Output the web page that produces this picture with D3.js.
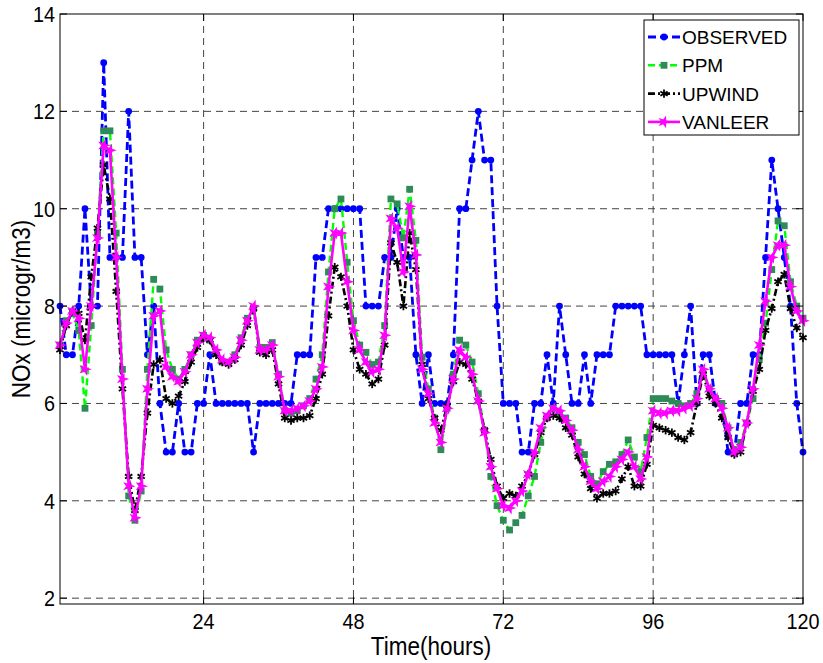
<!DOCTYPE html>
<html>
<head>
<meta charset="utf-8">
<script src="https://cdn.jsdelivr.net/npm/d3@7"></script>
<style>
  body { margin: 0; background: #fff; }
  svg { display: block; font-family: 'Liberation Sans', Arial, sans-serif; }
</style>
</head>
<body>
<svg id="chart" width="823" height="663"></svg>
<script>
// hours 1..120
const hours = d3.range(1, 121);

const observed = [8,7,7,8,10,8,8,13,9,9, 9,12,9,9,7,8,6,5,5,6,
  5,5,6,6,7,6,6,6,6,6, 6,5,6,6,6,6,6,6,7,7,
  7,9,9,10,10,10,10,10,10,8, 8,8,9,9,10,9,9,7,6,7,
  6,6,6,7,10,10,11,12,11,11, 8,6,6,6,5,5,6,6,7,6,
  8,7,6,6,7,6,7,7,7,8, 8,8,8,8,7,7,7,7,7,6,
  7,8,6,7,7,6,6,5,5,6, 6,7,7,9,11,10,9,8,6,5];

const ppm = [7.2,7.7,7.85,7.5,5.9,7.6,9.5,11.6,11.6,9.5, 6.7,4.1,3.6,4.2,6.7,8.55,8.35,7.1,6.7,6.5,
  6.7,7.0,7.3,7.4,7.3,7.05,6.85,6.85,7.0,7.35, 7.75,7.95,7.15,7.15,7.25,6.6,5.85,5.8,5.85,5.95,
  6.1,6.5,7.0,8.7,10.0,10.2,8.9,7.7,7.2,7.05, 6.8,6.85,7.6,10.2,10.1,9.4,10.4,9.35,6.95,6.3,
  5.7,5.05,5.9,6.6,7.3,7.2,6.85,6.2,5.45,4.5, 3.9,3.6,3.4,3.55,3.7,4.1,4.5,5.2,5.7,5.9,
  5.8,5.7,5.5,5.2,4.95,4.5,4.35,4.6,4.75,4.8, 4.95,5.25,4.9,4.6,5.3,6.1,6.1,6.1,6.05,6.0,
  5.95,6.0,6.2,6.6,6.3,6.1,6.0,5.5,5.05,5.2, 5.6,6.1,6.9,7.65,8.75,9.75,9.65,8.5,8.0,7.75];

const upwind = [7.1,7.6,7.9,7.85,7.3,8.6,9.6,10.9,10.2,8.3, 6.3,4.5,3.8,4.5,5.8,6.8,6.9,6.1,6.0,6.15,
  6.45,6.85,7.15,7.35,7.3,7.0,6.85,6.8,6.9,7.2, 7.6,7.95,7.05,7.0,7.1,6.4,5.7,5.65,5.7,5.7,
  5.75,6.1,6.6,7.8,8.8,8.6,8.0,7.1,6.7,6.6, 6.4,6.5,7.2,9.3,8.9,8.0,9.5,8.75,6.8,6.1,
  5.7,5.45,5.95,6.45,6.85,6.8,6.5,6.05,5.45,4.85, 4.3,4.05,4.15,4.1,4.3,4.55,4.95,5.4,5.7,5.75,
  5.7,5.5,5.35,4.9,4.55,4.25,4.05,4.15,4.15,4.2, 4.45,4.7,4.3,4.3,4.75,5.55,5.5,5.45,5.4,5.3,
  5.25,5.4,6.0,6.6,6.15,6.0,5.7,5.3,4.95,5.0, 5.6,6.25,6.7,7.5,7.95,8.5,8.65,7.95,7.55,7.35];

const vanleer = [7.2,7.65,7.9,7.75,6.7,8.0,9.4,11.3,11.2,9.0, 6.5,4.3,3.65,4.3,6.3,7.8,7.9,6.75,6.55,6.45,
  6.65,7.0,7.25,7.4,7.35,7.1,6.9,6.85,6.95,7.3, 7.7,8.0,7.1,7.1,7.2,6.55,5.85,5.85,5.9,5.95,
  6.05,6.3,6.75,8.4,9.5,9.5,8.5,7.5,7.1,6.85, 6.65,6.7,7.4,9.8,9.6,8.7,10.05,9.05,6.7,6.2,
  5.6,5.2,5.9,6.5,7.1,6.95,6.6,6.05,5.4,4.7, 4.25,3.9,3.85,4.0,4.2,4.55,5.0,5.5,5.75,5.9,
  5.85,5.65,5.45,5.05,4.7,4.4,4.25,4.4,4.5,4.7, 4.85,5.0,4.7,4.45,4.9,5.85,5.8,5.8,5.85,5.85,
  5.9,5.95,6.1,6.7,6.3,6.1,5.9,5.5,5.0,5.1, 5.6,6.3,7.2,8.1,9.0,9.25,9.25,8.4,7.9,7.7];

const xTicks = [24, 48, 72, 96, 120];
const yTicks = [2, 4, 6, 8, 10, 12, 14];
const seriesNames = ['OBSERVED', 'PPM', 'UPWIND', 'VANLEER'];

const svg = d3.select('#chart');
const plotLeft = 60, plotRight = 803, plotTop = 14, plotBottom = 604;

const x = d3.scaleLinear().domain([1, 120]).range([plotLeft, plotRight]);
const y = d3.scaleLinear().domain([1.88, 14]).range([plotBottom, plotTop]);

// grid
const grid = svg.append('g').attr('stroke', '#444').attr('stroke-width', 1).attr('stroke-dasharray', '7,5');
grid.selectAll('.gx').data(xTicks.filter(t => t < 120)).enter().append('line')
  .attr('x1', d => x(d)).attr('x2', d => x(d)).attr('y1', plotTop).attr('y2', plotBottom);
grid.selectAll('.gy').data(yTicks.filter(t => t < 14)).enter().append('line')
  .attr('y1', d => y(d)).attr('y2', d => y(d)).attr('x1', plotLeft).attr('x2', plotRight);

const plot = svg.append('g');

function drawLine(data, color, width, dash) {
  const line = d3.line().x((d, i) => x(hours[i])).y(d => y(d));
  plot.append('path').datum(data)
    .attr('fill', 'none').attr('stroke', color).attr('stroke-width', width)
    .attr('stroke-dasharray', dash).attr('stroke-linejoin', 'round')
    .attr('d', line);
}

const star = d3.symbol().type(d3.symbolStar).size(30);

function circleMark(g, cx, cy) {
  g.append('circle').attr('cx', cx).attr('cy', cy).attr('r', 3.4).attr('fill', '#0000ff');
}
function squareMark(g, cx, cy) {
  g.append('rect').attr('x', cx - 3.4).attr('y', cy - 3.4).attr('width', 6.8).attr('height', 6.8)
    .attr('fill', '#2e8b57');
}
function asteriskMark(g, cx, cy) {
  const r = 4.2;
  [30, 90, 150].forEach(a => {
    const t = a * Math.PI / 180;
    g.append('line')
      .attr('x1', cx - r * Math.cos(t)).attr('y1', cy - r * Math.sin(t))
      .attr('x2', cx + r * Math.cos(t)).attr('y2', cy + r * Math.sin(t))
      .attr('stroke', '#000').attr('stroke-width', 1.8);
  });
}
function starMark(g, cx, cy) {
  // thin spiky pentagram, like the MATLAB 'p' marker
  g.append('path').attr('d', star()).attr('transform', `translate(${cx},${cy}) rotate(18)`)
    .attr('fill', '#ff00ff').attr('stroke', '#ff00ff').attr('stroke-width', 1)
    .attr('stroke-linejoin', 'miter');
}

const styles = [
  {data: observed, color: '#0000ff', width: 2.8, dash: '8,4', mark: circleMark},
  {data: ppm, color: '#00ff00', width: 2.4, dash: '7,4', mark: squareMark},
  {data: upwind, color: '#000000', width: 2.6, dash: '7,3,2,3', mark: asteriskMark},
  {data: vanleer, color: '#ff00ff', width: 2.6, dash: null, mark: starMark}
];

styles.forEach(s => {
  drawLine(s.data, s.color, s.width, s.dash);
  const mg = plot.append('g');
  s.data.forEach((v, i) => s.mark(mg, x(hours[i]), y(v)));
});

// frame and ticks (ticks inside, box on)
const axes = svg.append('g').attr('stroke', '#000').attr('stroke-width', 1);
axes.append('rect').attr('x', plotLeft).attr('y', plotTop)
  .attr('width', plotRight - plotLeft).attr('height', plotBottom - plotTop)
  .attr('fill', 'none');
xTicks.forEach(t => {
  axes.append('line').attr('x1', x(t)).attr('x2', x(t)).attr('y1', plotBottom).attr('y2', plotBottom - 7);
  axes.append('line').attr('x1', x(t)).attr('x2', x(t)).attr('y1', plotTop).attr('y2', plotTop + 7);
});
yTicks.forEach(t => {
  axes.append('line').attr('x1', plotLeft).attr('x2', plotLeft + 7).attr('y1', y(t)).attr('y2', y(t));
  axes.append('line').attr('x1', plotRight).attr('x2', plotRight - 7).attr('y1', y(t)).attr('y2', y(t));
});

const labels = svg.append('g').attr('fill', '#000');
xTicks.forEach(t => {
  labels.append('text').attr('transform', `translate(${x(t)},629) scale(0.9,1)`)
    .attr('text-anchor', 'middle').attr('font-size', 22).text(t);
});
yTicks.forEach(t => {
  labels.append('text').attr('transform', `translate(55,${y(t) + 8}) scale(0.9,1)`)
    .attr('text-anchor', 'end').attr('font-size', 22).text(t);
});
labels.append('text').attr('transform', 'translate(431,655) scale(0.9,1)')
  .attr('text-anchor', 'middle').attr('font-size', 25).text('Time(hours)');
labels.append('text').attr('transform', 'translate(30,309) rotate(-90) scale(0.9,1)')
  .attr('text-anchor', 'middle').attr('font-size', 25).text('NOx (microgr/m3)');

// legend
const lg = svg.append('g');
lg.append('rect').attr('x', 644).attr('y', 20).attr('width', 155).attr('height', 115)
  .attr('fill', '#fff').attr('stroke', '#000').attr('stroke-width', 1);
styles.forEach((s, i) => {
  const ly = 37 + i * 28.3;
  lg.append('line').attr('x1', 648).attr('x2', 680).attr('y1', ly).attr('y2', ly)
    .attr('stroke', s.color).attr('stroke-width', s.width).attr('stroke-dasharray', s.dash);
  s.mark(lg, 664, ly);
  lg.append('text').attr('x', 682).attr('y', ly + 7).attr('font-size', 19).text(seriesNames[i]);
});
</script>
</body>
</html>
